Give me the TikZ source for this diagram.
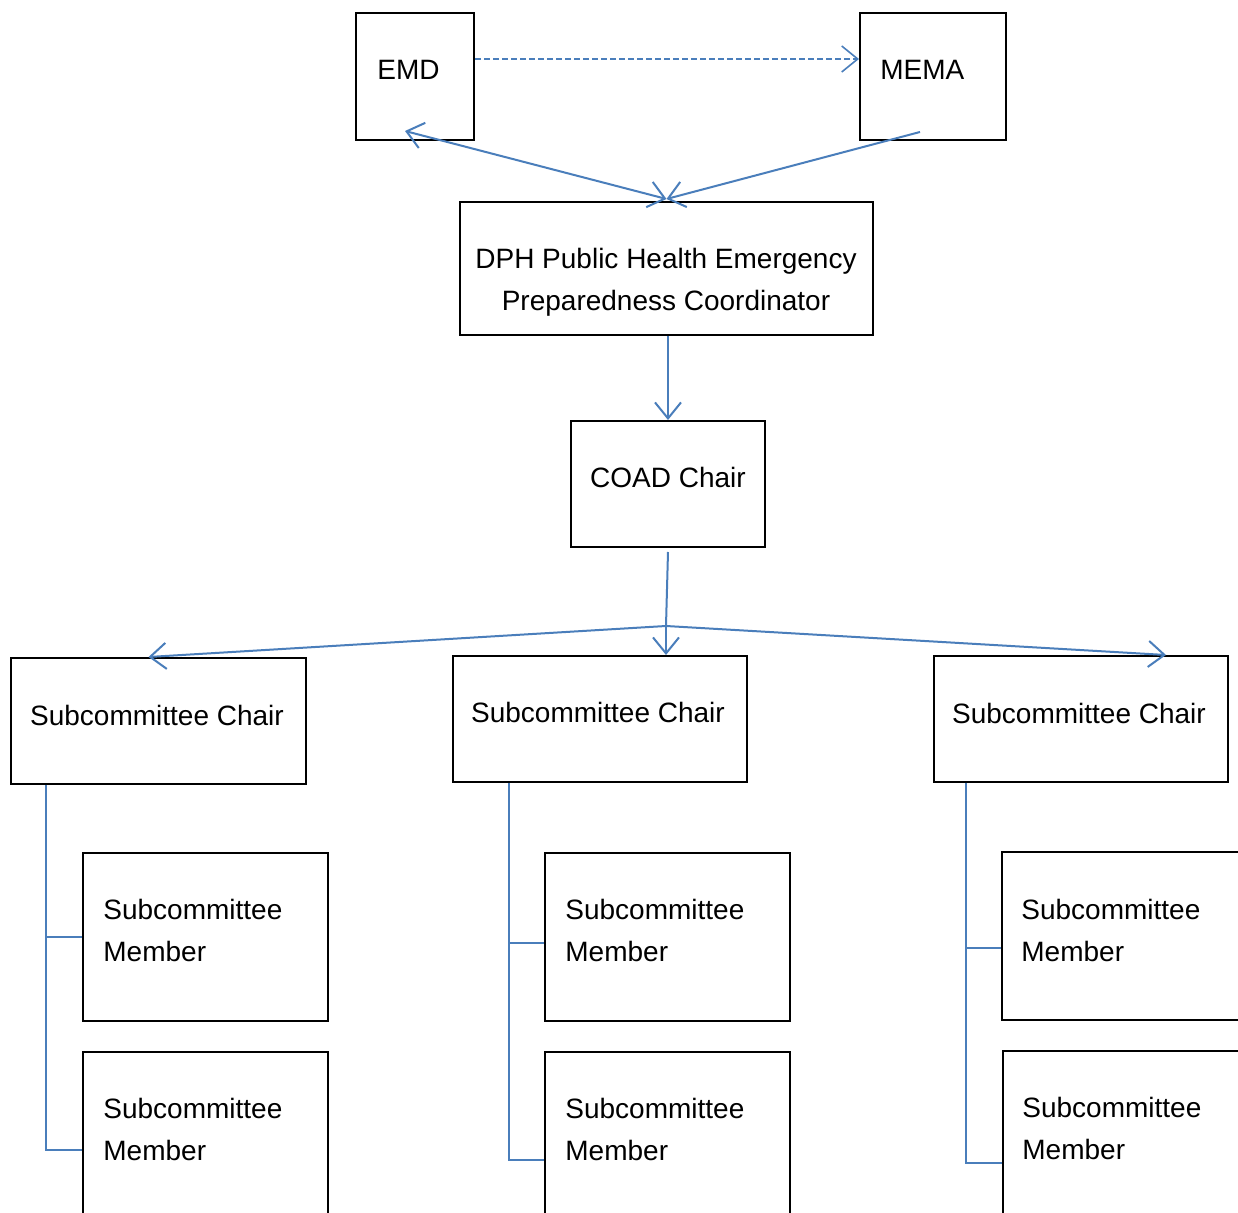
\documentclass[tikz,border=0pt]{standalone}
\usepackage{fontspec}
\setmainfont{Liberation Sans}
\usetikzlibrary{arrows.meta,calc}
\definecolor{lnblue}{HTML}{4A7EBB}
\begin{document}
\begin{tikzpicture}[x=0.5pt,y=-0.5pt,
  box/.style={draw=black, line width=1pt, rectangle, inner sep=0pt},
  lbl/.style={inner sep=0pt, font=\fontsize{14pt}{21pt}\selectfont},
  conn/.style={draw=lnblue, line width=1pt},
  dconn/.style={draw=lnblue, line width=0.8pt, dash pattern=on 3pt off 1.5pt},
  arr/.style={-{Straight Barb[length=8pt,width=13pt]}},
  barr/.style={{Straight Barb[length=8pt,width=13pt]}-{Straight Barb[length=8pt,width=13pt]}}
]
\clip (0,0) rectangle (1238,1213);
\fill[white] (0,0) rectangle (1238,1213);

% boxes
\node[box, minimum width=59pt,   minimum height=63.5pt] (emd)  at (415,76.5) {};
\node[box, minimum width=73pt,   minimum height=63.5pt] (mema) at (933,76.5) {};
\node[box, minimum width=206.5pt,minimum height=66.5pt] (dph)  at (666.5,268.5) {};
\node[box, minimum width=97pt,   minimum height=63pt]   (coad) at (668,484) {};
\node[box, minimum width=147.5pt,minimum height=63pt]   (sc1)  at (158.5,721) {};
\node[box, minimum width=147pt,  minimum height=63pt]   (sc2)  at (600,719) {};
\node[box, minimum width=147pt,  minimum height=63pt]   (sc3)  at (1081,719) {};
\node[box, minimum width=122.5pt,minimum height=84pt]   (m1a)  at (205.5,937) {};
\node[box, minimum width=122.5pt,minimum height=84pt]   (m1b)  at (205.5,1136) {};
\node[box, minimum width=122.5pt,minimum height=84pt]   (m2a)  at (667.5,937) {};
\node[box, minimum width=122.5pt,minimum height=84pt]   (m2b)  at (667.5,1136) {};
\node[box, minimum width=122.5pt,minimum height=84pt]   (m3a)  at (1124.5,936) {};
\node[box, minimum width=122.5pt,minimum height=84pt]   (m3b)  at (1125.5,1135) {};

% texts
\node[lbl, anchor=west] (emdT)  at (377,70) {EMD};
\node[lbl, anchor=west] (memaT) at (880,70) {MEMA};
\node[lbl, align=center] (dphT) at (666,282) {DPH Public Health Emergency\\Preparedness Coordinator};
\node[lbl] (coadT) at (668,477) {COAD Chair};
\node[lbl] (sc1T) at (157,715) {Subcommittee Chair};
\node[lbl] (sc2T) at (598,712) {Subcommittee Chair};
\node[lbl] (sc3T) at (1079,713) {Subcommittee Chair};
\node[lbl, anchor=west, align=left] (m1aT) at (103,930) {Subcommittee\\Member};
\node[lbl, anchor=west, align=left] (m1bT) at (103,1129) {Subcommittee\\Member};
\node[lbl, anchor=west, align=left] (m2aT) at (565,930) {Subcommittee\\Member};
\node[lbl, anchor=west, align=left] (m2bT) at (565,1129) {Subcommittee\\Member};
\node[lbl, anchor=west, align=left] (m3aT) at (1021,930) {Subcommittee\\Member};
\node[lbl, anchor=west, align=left] (m3bT) at (1022,1128) {Subcommittee\\Member};

% top connectors
\draw[dconn, arr] ([yshift=8.75pt]emd.east) -- ([yshift=8.75pt]mema.west);
\draw[conn, barr] ([xshift=-5pt,yshift=5pt]emd.south) -- ([yshift=1pt]dph.north);
\draw[conn, arr] ([xshift=-6.5pt,yshift=4.5pt]mema.south) -- ([yshift=1pt]dph.north);
\draw[conn, arr] (dph.south -| coad.north) -- (coad.north);

% COAD to subcommittee chairs
\coordinate (j) at (666,626);
\draw[conn] ([yshift=-2pt]coad.south) -- (j);
\draw[conn, arr] (j) -- (j |- sc2.north);
\draw[conn, arr] (j) -- ([xshift=-5pt]sc1.north);
\draw[conn, arr] (j) -- ([xshift=42.5pt]sc3.north);

% member brackets
\draw[conn] ([xshift=18pt]sc1.south west) |- (m1a.west);
\draw[conn] ([xshift=18pt]sc1.south west) |- ([yshift=-7pt]m1b.west);
\draw[conn] ([xshift=28.5pt]sc2.south west) |- ([yshift=-3pt]m2a.west);
\draw[conn] ([xshift=28.5pt]sc2.south west) |- ([yshift=-12pt]m2b.west);
\draw[conn] ([xshift=16.5pt]sc3.south west) |- ([yshift=-6pt]m3a.west);
\draw[conn] ([xshift=16.5pt]sc3.south west) |- ([yshift=-14pt]m3b.west);
\end{tikzpicture}
\end{document}
